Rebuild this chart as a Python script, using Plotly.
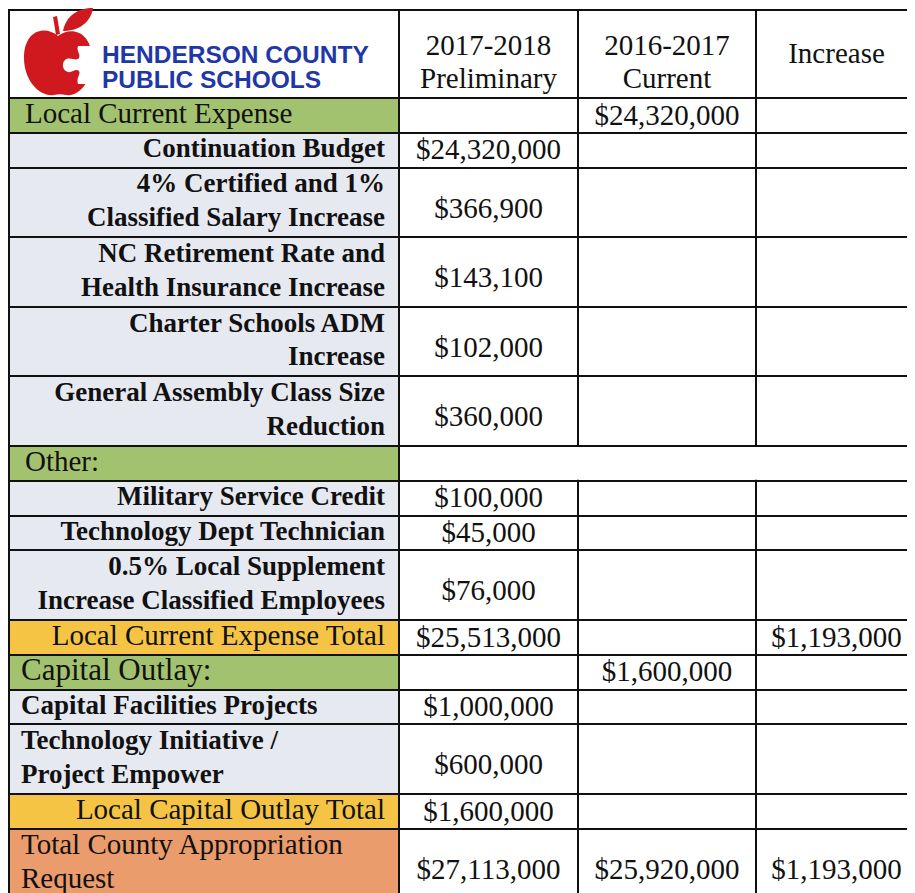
import plotly.graph_objects as go
import numpy as np

# ---------------- data ----------------
header_labels = ["2017-2018<br>Preliminary", "2016-2017<br>Current", "Increase"]

row_labels = [
    "Local Current Expense",
    "Continuation Budget",
    "4% Certified and 1%<br>Classified Salary Increase",
    "NC Retirement Rate and<br>Health Insurance Increase",
    "Charter Schools ADM<br>Increase",
    "General Assembly Class Size<br>Reduction",
    "Other:",
    "Military Service Credit",
    "Technology Dept Technician",
    "0.5% Local Supplement<br>Increase Classified Employees",
    "Local Current Expense Total",
    "Capital Outlay:",
    "Capital Facilities Projects",
    "Technology Initiative /<br>Project Empower",
    "Local Capital Outlay Total",
    "Total County Appropriation<br>Request",
]
row_kind = ["section", "item", "item", "item", "item", "item", "section", "item", "item",
            "item", "subtotal", "section2", "capital", "capital", "subtotal", "total"]

prelim_2017_18 = [None, 24320000, 366900, 143100, 102000, 360000, None, 100000, 45000,
                  76000, 25513000, None, 1000000, 600000, 1600000, 27113000]
current_2016_17 = [24320000, None, None, None, None, None, None, None, None,
                   None, None, 1600000, None, None, None, 25920000]
increase = [None, None, None, None, None, None, None, None, None,
            None, 1193000, None, None, None, None, 1193000]

# ---------------- layout / style ----------------
# the html page has an 8px body margin, so the figure is 8px smaller and the
# axes are expressed in window pixels starting at 8
OFF = 8
W, H = 915, 893
COL_EDGES = [9, 399, 578, 756, 917]
TOP = 10
HEADER_H = 88
UNIT_H = 34.8
LINE_SP = 33.5
SERIF = "Liberation Serif, Times New Roman, serif"
SANS = "Liberation Sans, Arial, sans-serif"
TXT = "#111111"

fill_codes = {"white": 0, "green": 1, "grey": 2, "yellow": 3, "salmon": 4}
palette = ["#ffffff", "#a3c26f", "#e7e9f1", "#f5c444", "#ea9c6c"]
kind_fill = {"section": "green", "section2": "green", "item": "grey", "capital": "grey",
             "subtotal": "yellow", "total": "salmon"}
kind_align = {"section": "left", "section2": "left", "item": "right", "capital": "left",
              "subtotal": "right", "total": "left"}
kind_bold = {"section": False, "section2": False, "item": True, "capital": True,
             "subtotal": False, "total": False}
kind_size = {"section": 29, "section2": 31, "item": 27, "capital": 27,
             "subtotal": 29, "total": 29}
kind_pad = {"section": 16, "section2": 12, "capital": 12, "total": 12}
VAL_SIZE = 29
HEAD_SIZE = 29

n_lines = [lab.count("<br>") + 1 for lab in row_labels]
row_h = [HEADER_H] + [n * UNIT_H for n in n_lines]
y_edges = TOP + np.concatenate([[0], np.cumsum(row_h)])
y_mid = (y_edges[:-1] + y_edges[1:]) / 2
x_edges = np.array(COL_EDGES, dtype=float)
x_mid = (x_edges[:-1] + x_edges[1:]) / 2

# cell fills
z = [[0, 0, 0, 0]]
for k in row_kind:
    z.append([fill_codes[kind_fill[k]], 0, 0, 0])
n = len(palette)
cscale = []
for i, c in enumerate(palette):
    cscale.append([max(0, (i - 0.5) / (n - 1)), c])
    cscale.append([min(1, (i + 0.5) / (n - 1)), c])

fig = go.Figure()
fig.add_trace(go.Heatmap(
    z=z, x=x_edges, y=y_edges, colorscale=cscale, zmin=0, zmax=n - 1,
    showscale=False, xgap=2, ygap=2, hoverinfo="skip",
))

# ---------------- texts ----------------
def fmt(v):
    return "" if v is None else "${:,.0f}".format(v)

tx, ty, tt, tp, ts = [], [], [], [], []

# header texts
for j, lab in enumerate(header_labels):
    parts = lab.split("<br>")
    base = y_mid[0] + (10 if len(parts) > 1 else 2)
    for i, p in enumerate(parts):
        tx.append(x_mid[j + 1])
        ty.append(base + (i - (len(parts) - 1) / 2) * LINE_SP)
        tt.append(p)
        tp.append("middle center")
        ts.append(HEAD_SIZE)

# row labels
for r, (lab, k) in enumerate(zip(row_labels, row_kind)):
    parts = lab.split("<br>")
    cy = y_mid[r + 1]
    for i, p in enumerate(parts):
        yy = cy + (i - (len(parts) - 1) / 2) * LINE_SP
        if kind_align[k] == "right":
            tx.append(x_edges[1] - 14)
            tp.append("middle left")
        else:
            tx.append(x_edges[0] + kind_pad[k])
            tp.append("middle right")
        ty.append(yy)
        tt.append("<b>" + p + "</b>" if kind_bold[k] else p)
        ts.append(kind_size[k])

# values
for j, col in enumerate([prelim_2017_18, current_2016_17, increase]):
    for r, v in enumerate(col):
        if v is None:
            continue
        cy = y_mid[r + 1] + (8 if n_lines[r] > 1 else 2)
        tx.append(x_mid[j + 1])
        ty.append(cy)
        tt.append(fmt(v))
        tp.append("middle center")
        ts.append(VAL_SIZE)

fig.add_trace(go.Scatter(
    x=tx, y=ty, text=tt, mode="text", textposition=tp,
    textfont=dict(family=SERIF, size=ts, color=TXT),
    hoverinfo="skip", cliponaxis=False, showlegend=False,
))

# logo text
fig.add_trace(go.Scatter(
    x=[102, 102], y=[57, 82],
    text=["<b>HENDERSON COUNTY</b>", "<b>PUBLIC SCHOOLS</b>"],
    mode="text", textposition="middle right",
    textfont=dict(family=SANS, size=24.5, color="#1f38a8"),
    hoverinfo="skip", cliponaxis=False, showlegend=False,
))

# ---------------- shapes: borders background, merged cell, logo ----------------
shapes = [
    dict(type="rect", xref="x", yref="y", x0=x_edges[0] - 1, x1=x_edges[-1],
         y0=y_edges[0] - 1, y1=y_edges[-1], fillcolor="#111111",
         line=dict(width=0), layer="below"),
]
other_idx = row_labels.index("Other:") + 1
shapes.append(dict(type="rect", xref="x", yref="y", x0=x_edges[1] + 1, x1=x_edges[-1],
                   y0=y_edges[other_idx] + 1, y1=y_edges[other_idx + 1] - 1,
                   fillcolor="#ffffff", line=dict(width=0), layer="above"))

RED = "#d0181f"
apple = "M 58,36 C 45,25 24,30 24,58 C 24,81 40,97 54,95 C 58,94 62,94 66,95 C 80,97 92,80 92,60 C 92,31 71,26 58,36 Z"
leaf = "M 63,31 C 66,15 79,8 93,8 C 91,22 79,31 63,31 Z"
stem = "M 56,35 L 53,17 L 57,16 L 60,34 Z"
bite = ("M 95,46 L 78,46 C 76,51 81,54 79,58 C 76,62 70,56 65,60 C 61,64 63,71 68,72 "
        "C 72,73 76,68 79,71 C 81,74 76,78 78,84 L 95,84 Z")
for p, col in [(apple, RED), (leaf, RED), (stem, RED), (bite, "#ffffff")]:
    shapes.append(dict(type="path", xref="x", yref="y", path=p, fillcolor=col,
                       line=dict(width=0), layer="above"))

fig.update_layout(
    width=W - OFF, height=H - OFF, autosize=False,
    margin=dict(l=0, r=0, t=0, b=0, pad=0),
    paper_bgcolor="#ffffff", plot_bgcolor="#ffffff",
    xaxis=dict(range=[OFF, W], visible=False, fixedrange=True, domain=[0, 1]),
    yaxis=dict(range=[H, OFF], visible=False, fixedrange=True, domain=[0, 1]),
    shapes=shapes, showlegend=False,
)

fig.write_html("out.html", config={"displayModeBar": False})
